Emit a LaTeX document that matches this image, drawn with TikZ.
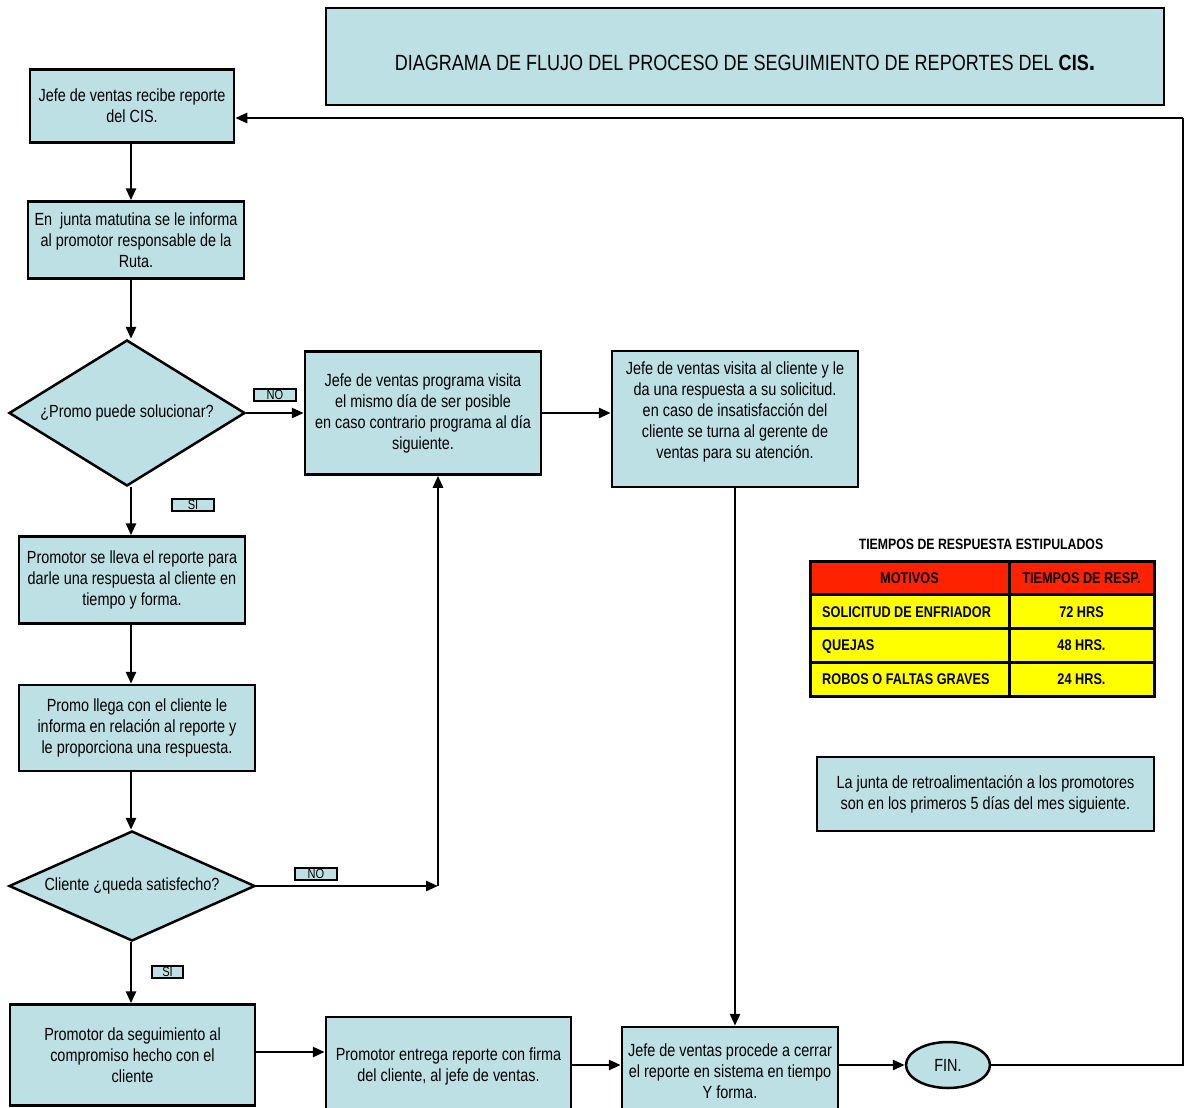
\documentclass[tikz,border=0pt]{standalone}
\usepackage{fontspec}
\setmainfont{Liberation Sans}[FakeStretch=0.82]
\usetikzlibrary{shapes.geometric,arrows.meta}
\definecolor{boxfill}{RGB}{189,224,228}
\definecolor{hdrred}{RGB}{255,34,0}
\definecolor{rowyellow}{RGB}{255,255,0}
\begin{document}
\begin{tikzpicture}[x=1pt,y=-1pt,
  txt/.style={font=\fontsize{17.6}{21}\selectfont, align=center},
  procbox/.style={txt, draw=black, line width=2.5pt, fill=boxfill, rectangle, inner sep=0pt},
  decision/.style={txt, draw=black, line width=2.5pt, fill=boxfill, diamond, inner sep=0pt},
  endnode/.style={txt, draw=black, line width=2.5pt, fill=boxfill, ellipse, inner sep=0pt},
  tag/.style={draw=black, line width=1.2pt, fill=boxfill, inner sep=0pt,
    minimum width=42pt, minimum height=12pt, font=\fontsize{13.5}{12}\selectfont},
  flow/.style={line width=2.7pt, -{Triangle[length=12pt,width=10pt]}},
  plain/.style={line width=2.7pt},
  cell/.style={draw=black, line width=3pt, minimum height=34pt, inner sep=0pt},
  celltxt/.style={inner sep=0pt, text height=11pt, text depth=0pt,
    font=\bfseries\fontsize{15.5}{16}\selectfont},
]
\useasboundingbox (0,0) rectangle (1186,1108);
\fill[white] (0,0) rectangle (1186,1108);

% title
\node[procbox, line width=2pt, minimum width=838pt, minimum height=97pt] (title) at (745,56.5) {};
\node[font=\fontsize{22}{24}\selectfont, inner sep=0pt] (titletext) at (745,63)
  {DIAGRAMA DE FLUJO DEL PROCESO DE SEGUIMIENTO DE REPORTES DEL \textbf{CIS}{\bfseries\fontsize{28}{28}\selectfont .}};

% main column
\coordinate (col) at (131,0);
\node[procbox, minimum width=204pt, minimum height=73pt] (b1) at (132,106)
  {Jefe de ventas recibe reporte\\del CIS.};
\node[procbox, minimum width=216pt, minimum height=77pt] (b2) at (136,240)
  {En\ \ junta matutina se le informa\\al promotor responsable de la\\Ruta.};
\node[decision, aspect=1.62, minimum width=236pt, minimum height=146pt] (d1) at (127,413)
  {¿Promo puede solucionar?};
\node[procbox, minimum width=236pt, minimum height=123pt] (b3) at (423,413)
  {Jefe de ventas programa visita\\el mismo día de ser posible\\en caso contrario programa al día\\siguiente.};
\node[procbox, minimum width=246pt, minimum height=136pt] (b4) at (735,419) {};
\node[txt, inner sep=0pt] (b4text) at (735,412)
  {Jefe de ventas visita al cliente y le\\da una respuesta a su solicitud.\\en caso de insatisfacción del\\cliente se turna al gerente de\\ventas para su atención.};
\node[procbox, minimum width=226pt, minimum height=87pt] (b5) at (132,580)
  {Promotor se lleva el reporte para\\darle una respuesta al cliente en\\tiempo y forma.};
\node[procbox, minimum width=236pt, minimum height=86pt] (b6) at (137,728)
  {Promo llega con el cliente le\\informa en relación al reporte y\\le proporciona una respuesta.};
\node[decision, aspect=2.24, minimum width=246pt, minimum height=110pt] (d2) at (132,886)
  {Cliente ¿queda satisfecho?};
\node[procbox, minimum width=245pt, minimum height=101pt] (b7) at (132.5,1055)
  {Promotor da seguimiento al\\compromiso hecho con el\\cliente};
\node[procbox, minimum width=245pt, minimum height=98pt] (b8) at (448.5,1066)
  {Promotor entrega reporte con firma\\del cliente, al jefe de ventas.};
\node[procbox, minimum width=216pt, minimum height=88pt] (b9) at (730,1071)
  {Jefe de ventas procede a cerrar\\el reporte en sistema en tiempo\\Y forma.};
\node[endnode, minimum width=84pt, minimum height=46pt] (fin) at (948,1065) {FIN.};

% yes / no tags
\node[tag] (no1) at (275,395) {NO};
\node[tag] (si1) at (193,505) {SI};
\node[tag] (no2) at (316,874) {NO};
\node[tag, minimum width=31pt] (si2) at (167.5,972) {SI};

% connectors
\draw[flow] (col |- b1.south) -- (col |- b2.north);
\draw[flow] (col |- b2.south) -- (col |- d1.north);
\draw[flow] (d1.east) -- (d1.east -| b3.west);
\draw[flow] (col |- d1.south) -- (col |- b5.north);
\draw[flow] (b3.east) -- (b3.east -| b4.west);
\draw[flow] (col |- b5.south) -- (col |- b6.north);
\draw[flow] (col |- b6.south) -- (col |- d2.north);
\draw[flow] (col |- d2.south) -- (col |- b7.north);
\coordinate (c1) at (438,889);
\draw[flow] (d2.east) -- (d2.east -| c1);
\draw[flow] (d2.east -| c1) -- (c1 |- b3.south);
\coordinate (c4) at (0,1052);
\draw[flow] (b7.east |- c4) -- (c4 -| b8.west);
\coordinate (c5) at (0,1065);
\draw[flow] (b8.east |- c5) -- (c5 -| b9.west);
\draw[flow] (b9.east |- fin) -- (fin.west);
\draw[flow] (b4.south) -- (b4.south |- b9.north);
\coordinate (c2) at (1183,1065);
\coordinate (c3) at (1183,118);
\draw[plain] (fin.east) -- (c2) -- (c3);
\draw[flow] (c3) -- (c3 -| b1.east);

% response-time table
\node[font=\bfseries\fontsize{15}{16}\selectfont, inner sep=0pt] (ttl) at (981,544) {TIEMPOS DE RESPUESTA ESTIPULADOS};
\node[cell, fill=hdrred, minimum width=199pt] (h1) at (909.5,578) {};
\node[cell, fill=hdrred, minimum width=145pt] (h2) at (1081.5,578) {};
\node[cell, fill=rowyellow, minimum width=199pt] (r1a) at (909.5,611.5) {};
\node[cell, fill=rowyellow, minimum width=145pt] (r1b) at (1081.5,611.5) {};
\node[cell, fill=rowyellow, minimum width=199pt] (r2a) at (909.5,645) {};
\node[cell, fill=rowyellow, minimum width=145pt] (r2b) at (1081.5,645) {};
\node[cell, fill=rowyellow, minimum width=199pt] (r3a) at (909.5,679) {};
\node[cell, fill=rowyellow, minimum width=145pt] (r3b) at (1081.5,679) {};
\node[celltxt] at (h1) {MOTIVOS};
\node[celltxt] at (h2) {TIEMPOS DE RESP.};
\node[celltxt, anchor=west] at (822,611.5) {SOLICITUD DE ENFRIADOR};
\node[celltxt] at (r1b) {72 HRS};
\node[celltxt, anchor=west] at (822,645) {QUEJAS};
\node[celltxt] at (r2b) {48 HRS.};
\node[celltxt, anchor=west] at (822,679) {ROBOS O FALTAS GRAVES};
\node[celltxt] at (r3b) {24 HRS.};

% note
\node[procbox, minimum width=337pt, minimum height=74pt] (note) at (985.5,794)
  {La junta de retroalimentación a los promotores\\son en los primeros 5 días del mes siguiente.};
\end{tikzpicture}
\end{document}
